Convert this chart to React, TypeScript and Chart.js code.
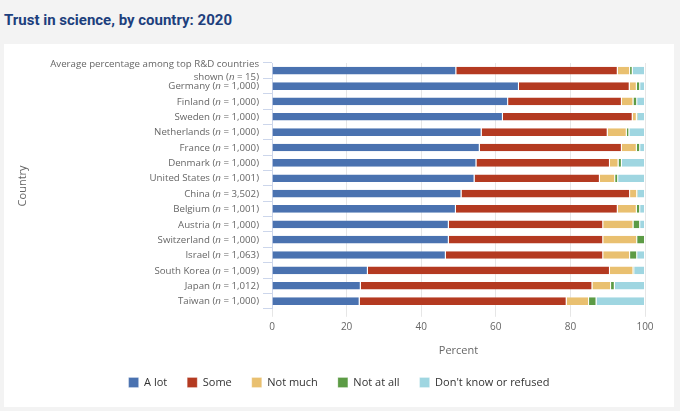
import React, { useEffect, useRef } from 'react';
import { Chart, ChartConfiguration, Plugin, registerables } from 'chart.js';

Chart.register(...registerables);

const countries = [
  'Average percentage among top R&D countries\nshown',
  'Germany',
  'Finland',
  'Sweden',
  'Netherlands',
  'France',
  'Denmark',
  'United States',
  'China',
  'Belgium',
  'Austria',
  'Switzerland',
  'Israel',
  'South Korea',
  'Japan',
  'Taiwan',
];
const sampleSizes = ['15', '1,000', '1,000', '1,000', '1,000', '1,000', '1,000', '1,001', '3,502', '1,001', '1,000', '1,000', '1,063', '1,009', '1,012', '1,000'];

const aLot = [49.4, 66.2, 63.3, 61.9, 56.2, 55.7, 54.8, 54.3, 50.8, 49.3, 47.4, 47.4, 46.6, 25.7, 23.8, 23.5];
const some = [43.3, 29.7, 30.5, 34.8, 33.8, 38.1, 35.8, 33.6, 45.2, 43.4, 41.4, 41.4, 42.2, 64.9, 62.1, 55.5];
const notMuch = [3.3, 1.9, 3.1, 1.1, 5.1, 4.0, 2.3, 4.1, 1.9, 5.1, 8.1, 9.1, 7.2, 6.3, 5.0, 6.0];
const notAtAll = [0.7, 0.9, 1.0, 0.3, 0.7, 0.9, 0.9, 0.8, 0.2, 0.9, 1.8, 2.1, 1.9, 0.2, 1.0, 2.0];
const dontKnow = [3.3, 1.3, 2.1, 1.9, 4.2, 1.3, 6.2, 7.2, 1.9, 1.3, 1.3, 0, 2.1, 2.9, 8.1, 13.0];

const xTicks = [0, 20, 40, 60, 80, 100];

const FONT = '"Open Sans", sans-serif';

// y labels are drawn by hand so the "n" can be italic
const countryLabels: Plugin<'bar'> = {
  id: 'countryLabels',
  afterDraw(chart) {
    const { ctx } = chart;
    const y = chart.scales.y;
    const right = y.right - 13;
    ctx.save();
    ctx.fillStyle = '#666666';
    ctx.textBaseline = 'middle';
    ctx.textAlign = 'left';
    const normal = `9.7px ${FONT}`;
    const italic = `italic 9.7px ${FONT}`;
    countries.forEach((c, i) => {
      const py = y.getPixelForValue(i) + 0.5;
      const lines = c.split('\n');
      const last = lines.pop() as string;
      const n = lines.length;
      const lh = 13;
      const top = py - (n * lh) / 2;
      lines.forEach((l, k) => {
        ctx.font = normal;
        const w = ctx.measureText(l).width;
        ctx.fillText(l, right - w, top + k * lh);
      });
      const parts: [string, string][] = [
        [`${last} (`, normal],
        ['n', italic],
        [` = ${sampleSizes[i]})`, normal],
      ];
      let total = 0;
      parts.forEach(([t, f]) => {
        ctx.font = f;
        total += ctx.measureText(t).width;
      });
      let x = right - total;
      const ly = top + n * lh;
      parts.forEach(([t, f]) => {
        ctx.font = f;
        ctx.fillText(t, x, ly);
        x += ctx.measureText(t).width;
      });
    });
    ctx.restore();
  },
};

const TrustChart = () => {
  const ref = useRef<HTMLCanvasElement | null>(null);
  const chartRef = useRef<Chart<'bar'> | null>(null);

  useEffect(() => {
    const seg = (label: string, data: number[], color: string) => ({
      label,
      data,
      backgroundColor: color,
      borderColor: '#ffffff',
      borderWidth: { top: 0, bottom: 0, left: 0, right: 1 },
      borderSkipped: false as const,
      barPercentage: 0.5,
      categoryPercentage: 1,
    });

    const config: ChartConfiguration<'bar'> = {
      type: 'bar',
      data: {
        labels: countries.map((c) => c.replace('\n', ' ')),
        datasets: [
          seg('A lot', aLot, '#4a72b0'),
          seg('Some', some, '#b43a21'),
          seg('Not much', notMuch, '#e9c070'),
          seg('Not at all', notAtAll, '#5c9b45'),
          seg("Don't know or refused", dontKnow, '#9fd6e1'),
        ],
      },
      options: {
        indexAxis: 'y',
        animation: false,
        responsive: false,
        layout: { padding: { top: 19, right: 0, bottom: 9, left: 0 } },
        plugins: {
          legend: {
            position: 'bottom',
            labels: {
              boxWidth: 10,
              boxHeight: 10,
              padding: 20,
              color: '#333333',
              font: { family: FONT, size: 11 },
            },
          },
          tooltip: { enabled: false },
        },
        scales: {
          x: {
            stacked: true,
            min: 0,
            max: 100,
            afterBuildTicks: (scale) => {
              scale.ticks = xTicks.map((v) => ({ value: v }));
            },
            grid: { color: '#e6e6e6', drawTicks: true, tickLength: 8 },
            border: { display: false },
            ticks: { color: '#666666', padding: 4, font: { family: FONT, size: 10 } },
            title: {
              display: true,
              text: 'Percent',
              color: '#666666',
              font: { family: FONT, size: 11 },
              padding: { top: 7, bottom: 0 },
            },
          },
          y: {
            stacked: true,
            afterFit: (scale) => {
              scale.width = 268;
            },
            grid: { drawOnChartArea: false, drawTicks: true, tickLength: 9, color: '#ccd6eb' },
            border: { display: true, color: '#ccd6eb' },
            ticks: { display: false },
            title: {
              display: true,
              text: 'Country',
              color: '#666666',
              font: { family: FONT, size: 11 },
              padding: { top: 12, bottom: 0 },
            },
          },
          // empty right-hand axis: keeps a right margin while the legend stays centred on the card
          yRight: {
            type: 'linear',
            position: 'right',
            grid: { display: false },
            border: { display: false },
            ticks: { display: false },
            afterFit: (scale) => {
              scale.width = 29;
            },
          },
        },
      },
      plugins: [countryLabels],
    };

    if (chartRef.current) chartRef.current.destroy();
    if (ref.current) chartRef.current = new Chart(ref.current, config);

    return () => {
      chartRef.current?.destroy();
      chartRef.current = null;
    };
  }, []);

  return <canvas ref={ref} width={670} height={363} style={{ display: 'block' }} />;
};

const App = () => {
  useEffect(() => {
    document.body.style.margin = '0';
  }, []);

  return (
    <div style={{ position: 'relative', width: 680, height: 411, background: '#f3f3f3', overflow: 'hidden' }}>
      <div
        style={{
          position: 'absolute',
          left: 4,
          top: 9,
          font: 'bold 15px Roboto, sans-serif',
          color: '#1d3f7d',
          lineHeight: '22px',
        }}
      >
        Trust in science, by country: 2020
      </div>
      <div style={{ position: 'absolute', left: 4, top: 44, width: 670, height: 363, background: '#ffffff' }}>
        <TrustChart />
      </div>
    </div>
  );
};

export default App;
